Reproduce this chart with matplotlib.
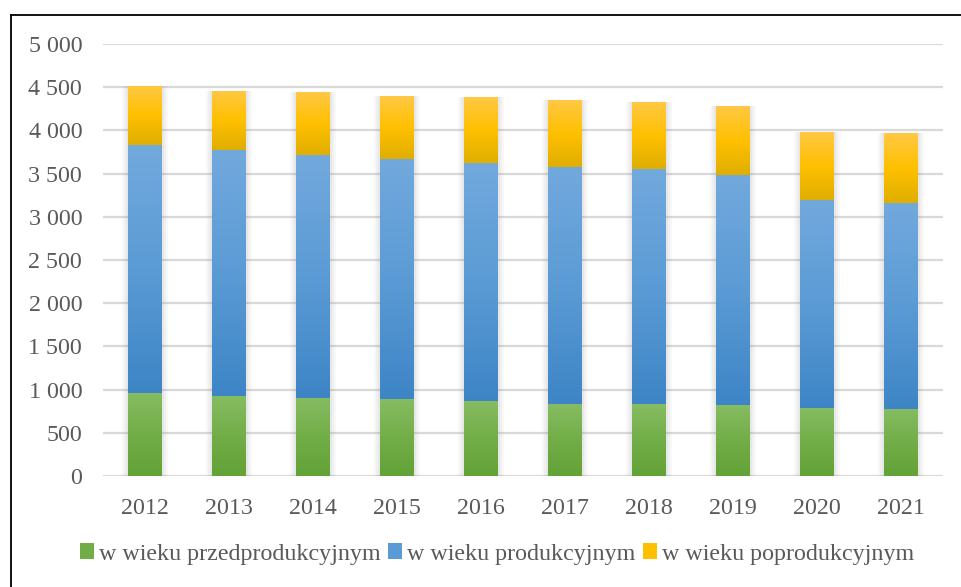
import matplotlib
matplotlib.use("Agg")
import matplotlib.pyplot as plt
import numpy as np
from matplotlib.colors import LinearSegmentedColormap
from matplotlib.patches import Patch
from matplotlib.lines import Line2D

years = ["2012", "2013", "2014", "2015", "2016", "2017", "2018", "2019", "2020", "2021"]
przedprodukcyjny = [964, 922, 906, 891, 865, 833, 833, 818, 787, 772]
produkcyjny = [2867, 2851, 2809, 2778, 2761, 2747, 2717, 2670, 2407, 2391]
poprodukcyjny = [686, 683, 726, 729, 757, 772, 775, 791, 787, 803]
series_names = ["w wieku przedprodukcyjnym", "w wieku produkcyjnym", "w wieku poprodukcyjnym"]
yticks = [0, 500, 1000, 1500, 2000, 2500, 3000, 3500, 4000, 4500, 5000]

plt.rcParams['font.family'] = ['Liberation Serif', 'DejaVu Serif']
TXT = '#595959'
FS = 17.3

fig = plt.figure(figsize=(9.61, 5.87), dpi=100)
ax = fig.add_axes([103/961, 1-476/587, (943-103)/961, (476-44)/587])

x = np.arange(len(years))
w = 0.4

grads = [
    ['#86bc62', '#72ae48', '#62a236'],
    ['#72a9dd', '#5b9bd5', '#3d85c6'],
    ['#ffc845', '#ffc000', '#dfae00'],
]
base_cols = ['#70ad47', '#5b9bd5', '#ffc000']

totals = np.array(przedprodukcyjny) + np.array(produkcyjny) + np.array(poprodukcyjny)
# soft shadow
for k, a in zip([0.14, 0.10, 0.06], [0.05, 0.06, 0.08]):
    ax.bar(x, totals, width=w + k, color='#7f7f7f', alpha=a, zorder=1, linewidth=0)

bottom = np.zeros(len(years))
grad_img = np.linspace(0, 1, 256).reshape(-1, 1)
for vals, g, name, bc in zip([przedprodukcyjny, produkcyjny, poprodukcyjny], grads, series_names, base_cols):
    bars = ax.bar(x, vals, width=w, bottom=bottom, color='none', linewidth=0, zorder=3, label=name)
    cmap = LinearSegmentedColormap.from_list('g', g[::-1])
    for p in bars.patches:
        bx, by = p.get_x(), p.get_y()
        bw, bh = p.get_width(), p.get_height()
        im = ax.imshow(grad_img, extent=[bx, bx + bw, by, by + bh], origin='lower',
                       aspect='auto', cmap=cmap, zorder=2.5, interpolation='bicubic')
        im.set_clip_path(p)
    bottom = bottom + np.array(vals)

ax.set_xlim(-0.5, len(years) - 0.5)
ax.set_ylim(0, 5000)
ax.set_yticks(yticks)
ax.set_yticklabels([f"{v:,}".replace(",", " ") for v in yticks])
ax.set_xticks(x)
ax.set_xticklabels(years)
ax.tick_params(axis='both', length=0, labelsize=FS, colors=TXT)
ax.tick_params(axis='y', pad=15)
ax.tick_params(axis='x', pad=16)
for s in ax.spines.values():
    s.set_visible(False)
ax.yaxis.grid(True, color='#d9d9d9', linewidth=1.6, zorder=0)
ax.set_axisbelow(True)

handles = [Patch(facecolor=c, edgecolor='none') for c in base_cols]
fig.legend(handles, series_names, loc='center', bbox_to_anchor=(497/961, 1-554/587),
           ncol=3, frameon=False, fontsize=FS, labelcolor=TXT,
           handlelength=0.6, handleheight=0.6, handletextpad=0.2, columnspacing=0.3)

fig.add_artist(Line2D([11/961, 1], [1-14.5/587, 1-14.5/587], color='black', linewidth=1.3, transform=fig.transFigure))
fig.add_artist(Line2D([11/961, 11/961], [0, 1-14.5/587], color='black', linewidth=1.3, transform=fig.transFigure))

fig.savefig('out.png', dpi=100)
